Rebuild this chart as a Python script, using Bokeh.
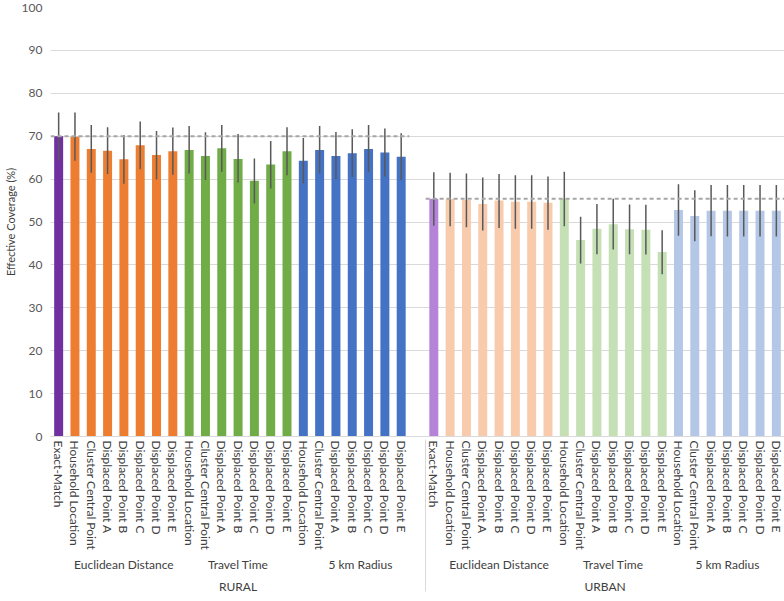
from bokeh.plotting import figure
from bokeh.models import FactorRange, Range1d, FixedTicker, ColumnDataSource
from bokeh.embed import file_html
from bokeh.resources import INLINE

# ---------------- data ----------------
areas = ["RURAL", "URBAN"]
methods = ["Euclidean Distance", "Travel Time", "5 km Radius"]
points = ["Household Location", "Cluster Central Point", "Displaced Point A",
          "Displaced Point B", "Displaced Point C", "Displaced Point D", "Displaced Point E"]

rural_exact = 70.0
rural_exact_lo = 64.3
rural_exact_hi = 75.5
rural_ed = [69.9, 67.0, 66.6, 64.6, 67.9, 65.6, 66.5]
rural_ed_lo = [64.3, 61.5, 61.2, 58.9, 62.3, 59.9, 61.0]
rural_ed_hi = [75.5, 72.6, 72.1, 70.3, 73.4, 71.2, 72.0]
rural_tt = [66.8, 65.4, 67.2, 64.7, 59.6, 63.4, 66.5]
rural_tt_lo = [61.3, 59.8, 61.7, 59.2, 54.3, 57.8, 60.9]
rural_tt_hi = [72.4, 70.9, 72.6, 70.5, 64.8, 68.9, 72.1]
rural_rad = [64.3, 66.8, 65.4, 66.0, 67.0, 66.2, 65.2]
rural_rad_lo = [59.0, 61.3, 60.0, 60.5, 61.6, 60.6, 59.8]
rural_rad_hi = [69.6, 72.4, 71.0, 71.6, 72.6, 71.8, 70.7]

urban_exact = 55.4
urban_exact_lo = 49.1
urban_exact_hi = 61.6
urban_ed = [55.4, 55.1, 54.2, 55.0, 54.7, 54.7, 54.5]
urban_ed_lo = [49.0, 48.8, 48.0, 48.6, 48.4, 48.4, 48.2]
urban_ed_hi = [61.5, 61.3, 60.4, 61.2, 60.9, 60.9, 60.6]
urban_tt = [55.4, 45.8, 48.4, 49.5, 48.3, 48.2, 43.0]
urban_tt_lo = [49.0, 40.3, 42.5, 43.6, 42.5, 42.4, 37.8]
urban_tt_hi = [61.7, 51.2, 54.2, 55.4, 54.1, 54.0, 48.1]
urban_rad = [52.8, 51.4, 52.6, 52.6, 52.6, 52.6, 52.6]
urban_rad_lo = [46.8, 45.5, 46.7, 46.6, 46.6, 46.6, 46.6]
urban_rad_hi = [58.8, 57.4, 58.6, 58.6, 58.6, 58.6, 58.6]

y_ticks = [0, 10, 20, 30, 40, 50, 60, 70, 80, 90, 100]

# ---------------- styles ----------------
colors = {
    ("RURAL", ""): "#7030A0",
    ("RURAL", "Euclidean Distance"): "#ED7D31",
    ("RURAL", "Travel Time"): "#70AD47",
    ("RURAL", "5 km Radius"): "#4472C4",
    ("URBAN", ""): "#B584D9",
    ("URBAN", "Euclidean Distance"): "#F8CBAD",
    ("URBAN", "Travel Time"): "#C5E0B4",
    ("URBAN", "5 km Radius"): "#B4C7E7",
}
FONT = "Lato"
SEP = "#D9D9D9"

# ---------------- build factors ----------------
series = {
    "RURAL": (rural_exact, rural_exact_lo, rural_exact_hi,
              [(rural_ed, rural_ed_lo, rural_ed_hi), (rural_tt, rural_tt_lo, rural_tt_hi),
               (rural_rad, rural_rad_lo, rural_rad_hi)]),
    "URBAN": (urban_exact, urban_exact_lo, urban_exact_hi,
              [(urban_ed, urban_ed_lo, urban_ed_hi), (urban_tt, urban_tt_lo, urban_tt_hi),
               (urban_rad, urban_rad_lo, urban_rad_hi)]),
}

factors = []
xs, tops, los, his, cols = [], [], [], [], []
group_bounds = {}
for area in areas:
    ex, exlo, exhi, groups = series[area]
    start = len(factors)
    f = (area, "", "Exact-Match")
    factors.append(f)
    xs.append(f); tops.append(ex); los.append(exlo); his.append(exhi)
    cols.append(colors[(area, "")])
    for m, (vals, lo, hi) in zip(methods, groups):
        for pt, v, l, h in zip(points, vals, lo, hi):
            f = (area, m, pt)
            factors.append(f)
            xs.append(f); tops.append(v); los.append(l); his.append(h)
            cols.append(colors[(area, m)])
    end = len(factors)
    group_bounds[area] = (start, end, ex)
    if area == "RURAL":
        factors.append((area, methods[-1], " "))  # empty slot as in the original

src = ColumnDataSource(dict(x=xs, top=tops, lo=los, hi=his, color=cols))

p = figure(
    x_range=FactorRange(*factors, factor_padding=0, subgroup_padding=0,
                        group_padding=0, range_padding=0),
    y_range=Range1d(0, 100),
    width=784, height=597,
    output_backend="svg", toolbar_location=None,
    min_border_left=30, min_border_right=0, min_border_top=7, min_border_bottom=0,
)
p.outline_line_color = None
p.background_fill_color = "white"

p.vbar(x="x", top="top", width=0.55, source=src, fill_color="color", line_color=None)
p.segment(x0="x", y0="lo", x1="x", y1="hi", source=src, line_color="#595959", line_width=1.5)

# dashed exact-match reference lines
for area in areas:
    s, e, ex = group_bounds[area]
    p.segment(x0=[s], y0=[ex], x1=[e], y1=[ex], line_color="#A6A6A6",
              line_width=2, line_dash="4 3")

# axes
p.yaxis.ticker = FixedTicker(ticks=y_ticks)
p.yaxis.axis_label = "Effective Coverage (%)"
p.yaxis.axis_label_text_font = FONT
p.yaxis.axis_label_text_font_size = "11px"
p.yaxis.axis_label_text_font_style = "normal"
p.yaxis.axis_label_text_color = "#404040"
p.yaxis.axis_label_standoff = 2
p.yaxis.major_label_text_font = FONT
p.yaxis.major_label_text_font_size = "12px"
p.yaxis.major_label_text_color = "#595959"
p.yaxis.axis_line_color = None
p.yaxis.major_tick_line_color = None
p.yaxis.minor_tick_line_color = None
p.yaxis.major_tick_out = 0
p.yaxis.minor_tick_out = 0
p.yaxis.major_label_standoff = 8

p.xgrid.grid_line_color = None
p.ygrid.grid_line_color = "#D9D9D9"
p.ygrid.grid_line_width = 1

xa = p.xaxis[0]
xa.axis_line_color = "#D9D9D9"
xa.major_tick_line_color = None
xa.minor_tick_line_color = None
xa.major_tick_out = 0
xa.minor_tick_out = 0
xa.major_label_orientation = "vertical"
xa.major_label_text_font = FONT
xa.major_label_text_font_size = "12px"
xa.major_label_text_color = "#404040"
xa.major_label_standoff = 4
xa.subgroup_text_font = FONT
xa.subgroup_text_font_size = "12px"
xa.subgroup_text_font_style = "normal"
xa.subgroup_text_color = "#404040"
xa.group_text_font = FONT
xa.group_text_font_size = "12px"
xa.group_text_font_style = "normal"
xa.group_text_color = "#404040"
xa.separator_line_color = SEP
xa.separator_line_width = 1

open("out.html", "w").write(file_html(p, INLINE))
